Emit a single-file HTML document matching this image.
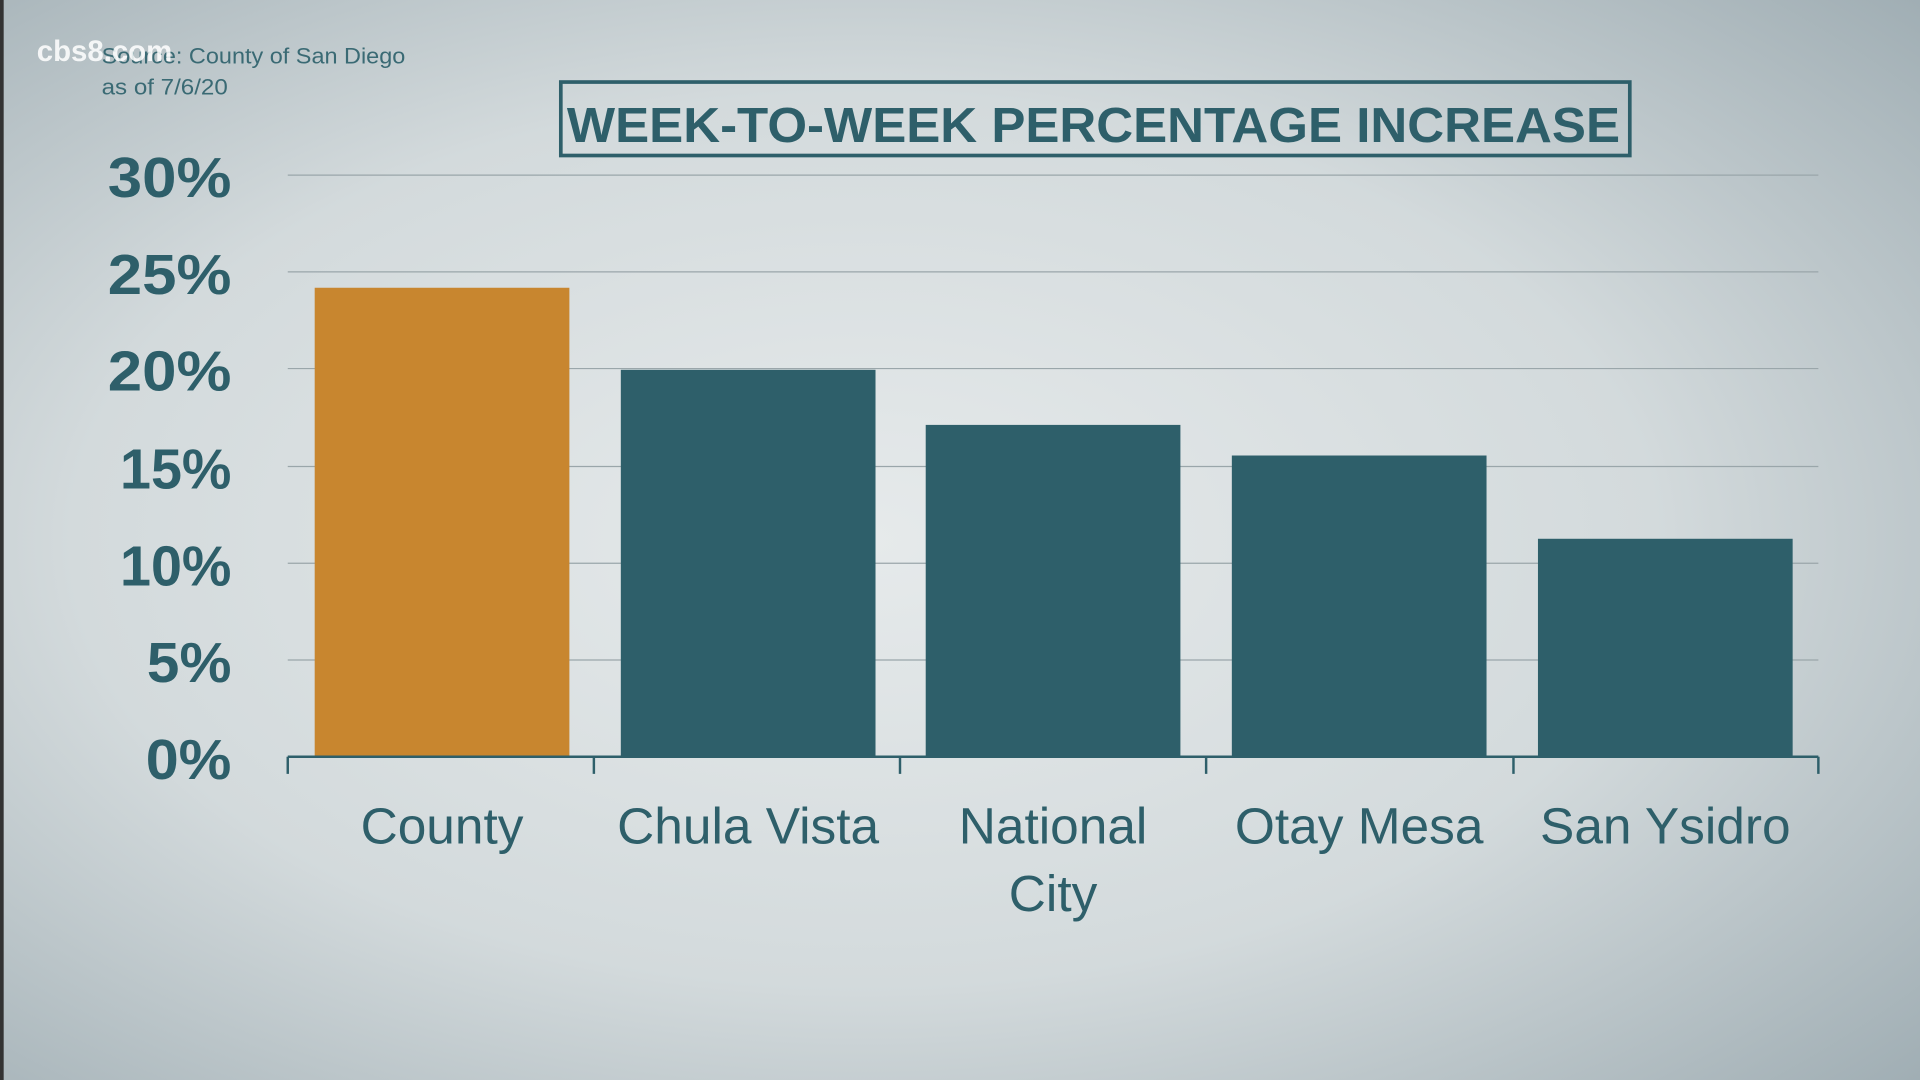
<!DOCTYPE html>
<html><head><style>
html,body{margin:0;padding:0;width:1920px;height:1080px;overflow:hidden;background:#c8d0d3}
svg{display:block}
</style></head><body>
<svg width="1920" height="1080" viewBox="0 0 1568 882" xmlns="http://www.w3.org/2000/svg">
<defs>
<radialGradient id="bg" cx="0.45" cy="0.5" r="0.75">
<stop offset="0" stop-color="#e6eaeb"/>
<stop offset="0.55" stop-color="#d3dadc"/>
<stop offset="1" stop-color="#9fadb3"/>
</radialGradient>
</defs>
<rect width="1568" height="882" fill="url(#bg)"/>
<rect x="0" y="0" width="3" height="882" fill="#333"/>
<g stroke="#9aa6aa" stroke-width="1">
<line x1="235" x2="1485" y1="143" y2="143"/>
<line x1="235" x2="1485" y1="222" y2="222"/>
<line x1="235" x2="1485" y1="301" y2="301"/>
<line x1="235" x2="1485" y1="381" y2="381"/>
<line x1="235" x2="1485" y1="460" y2="460"/>
<line x1="235" x2="1485" y1="539" y2="539"/>
</g>
<rect x="257" y="235" width="208" height="383" fill="#c8862f"/>
<g fill="#2e5f6a">
<rect x="507" y="302" width="208" height="316"/>
<rect x="756" y="347" width="208" height="271"/>
<rect x="1006" y="372" width="208" height="246"/>
<rect x="1256" y="440" width="208" height="178"/>
</g>
<g stroke="#2e5f6a" stroke-width="2">
<line x1="235" x2="1485" y1="618" y2="618"/>
<line x1="235" x2="235" y1="618" y2="632"/>
<line x1="485" x2="485" y1="618" y2="632"/>
<line x1="735" x2="735" y1="618" y2="632"/>
<line x1="985" x2="985" y1="618" y2="632"/>
<line x1="1236" x2="1236" y1="618" y2="632"/>
<line x1="1485" x2="1485" y1="618" y2="632"/>
</g>
<g font-family="Liberation Sans, sans-serif" font-weight="bold" font-size="46" fill="#2e5f6a" lengthAdjust="spacingAndGlyphs">
<text x="88" y="161" textLength="101" lengthAdjust="spacingAndGlyphs">30%</text>
<text x="88" y="240" textLength="101" lengthAdjust="spacingAndGlyphs">25%</text>
<text x="88" y="319" textLength="101" lengthAdjust="spacingAndGlyphs">20%</text>
<text x="98" y="399" textLength="91" lengthAdjust="spacingAndGlyphs">15%</text>
<text x="98" y="478" textLength="91" lengthAdjust="spacingAndGlyphs">10%</text>
<text x="120" y="557" textLength="69" lengthAdjust="spacingAndGlyphs">5%</text>
<text x="119" y="636" textLength="70" lengthAdjust="spacingAndGlyphs">0%</text>
</g>
<g font-family="Liberation Sans, sans-serif" font-size="42" fill="#2e5f6a" text-anchor="middle">
<text x="361" y="689">County</text>
<text x="611" y="689">Chula Vista</text>
<text x="860" y="689">National</text>
<text x="860" y="744">City</text>
<text x="1110" y="689">Otay Mesa</text>
<text x="1360" y="689">San Ysidro</text>
</g>
<rect x="458" y="67" width="873" height="60" fill="none" stroke="#2e5f6a" stroke-width="3"/>
<text x="463" y="116" textLength="860" lengthAdjust="spacingAndGlyphs" font-family="Liberation Sans, sans-serif" font-weight="bold" font-size="40" fill="#2e5f6a">WEEK-TO-WEEK  PERCENTAGE INCREASE</text>
<g font-family="Liberation Sans, sans-serif" font-size="18" fill="#3a6a74">
<text x="83" y="52" textLength="248" lengthAdjust="spacingAndGlyphs">Source: County of San Diego</text>
<text x="83" y="77" textLength="103" lengthAdjust="spacingAndGlyphs">as of 7/6/20</text>
</g>
<text x="30" y="50" font-family="Liberation Sans, sans-serif" font-weight="bold" font-size="24" fill="#ffffff" fill-opacity="0.85">cbs8.com</text>
</svg>
</body></html>
